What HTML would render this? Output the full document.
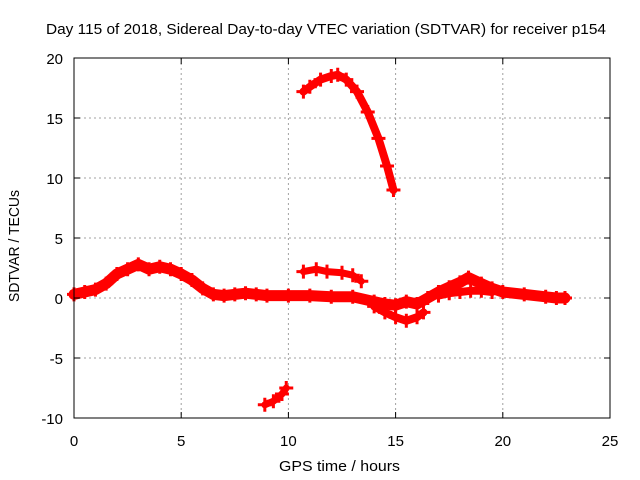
<!DOCTYPE html>
<html><head><meta charset="utf-8">
<style>
body{margin:0;background:#fff;}
svg{display:block;font-family:"Liberation Sans",sans-serif;}
</style></head>
<body>
<svg id="chart" width="640" height="480">
<rect x="0" y="0" width="640" height="480" fill="#fff"/>
<text x="46" y="34" font-size="15" textLength="560" lengthAdjust="spacingAndGlyphs">Day 115 of 2018, Sidereal Day-to-day VTEC variation (SDTVAR) for receiver p154</text>
<g id="grid"></g>
<g id="series"></g>
<rect x="74" y="58" width="536" height="360" fill="none" stroke="#000" stroke-width="1"/>
<g id="ticks"></g>
<text x="279" y="471" font-size="15" textLength="121" lengthAdjust="spacingAndGlyphs">GPS time / hours</text>
<text transform="translate(19,302) rotate(-90)" font-size="15" textLength="112" lengthAdjust="spacingAndGlyphs">SDTVAR / TECUs</text>
</svg>
<script>
const xTicks=[0,5,10,15,20,25];
const yTicks=[-10,-5,0,5,10,15,20];
const arcT=[10.7,11,11.5,12,12.3,12.7,13.2,13.7,14.2,14.6,14.9];
const arcV=[17.2,17.6,18.2,18.5,18.6,18.2,17.2,15.5,13.3,11,9];
const lowT=[8.9,9.3,9.7,9.9];
const lowV=[-8.9,-8.6,-8.0,-7.5];
const midT=[10.7,11.3,11.8,12.5,13,13.4];
const midV=[2.2,2.4,2.2,2.1,1.9,1.4];
const mainT=[0,0.5,1,1.5,2,2.5,3,3.5,4,4.5,5,5.5,6,6.5,7,7.5,8,8.5,9,10,11,12,13,14,14.5,15,15.5,16,16.5,17,17.5,18,18.4,19,19.5,20,21,22,22.5,22.9];
const mainV=[0.3,0.5,0.7,1.2,2,2.4,2.8,2.4,2.6,2.4,2,1.5,0.8,0.3,0.2,0.3,0.4,0.3,0.2,0.2,0.2,0.1,0.1,-0.3,-0.5,-0.6,-0.3,-0.5,0,0.5,0.9,1.3,1.7,1.2,0.8,0.5,0.3,0.1,0,0];
const lowerT=[14,14.5,15,15.5,16,16.3];
const lowerV=[-0.7,-1.2,-1.6,-1.9,-1.6,-1.2];
const secT=[17,17.5,18,18.5,19,19.5];
const secV=[0.2,0.4,0.5,0.6,0.6,0.5];

const NS="http://www.w3.org/2000/svg";
const X=t=>74+t*536/25;
const Y=v=>418-(v+10)*12;
const grid=document.getElementById('grid'),ticks=document.getElementById('ticks'),ser=document.getElementById('series');
function mk(tag,attrs,parent){const e=document.createElementNS(NS,tag);for(const k in attrs)e.setAttribute(k,attrs[k]);parent.appendChild(e);return e;}
xTicks.forEach(t=>{
  if(t>0&&t<25){const g=mk('line',{x1:X(t),x2:X(t),y1:58,y2:418,stroke:'#a0a0a0','stroke-dasharray':'2,3'},grid);
  
  }
  mk('line',{x1:X(t),x2:X(t),y1:418,y2:412,stroke:'#000'},ticks);
  mk('line',{x1:X(t),x2:X(t),y1:58,y2:64,stroke:'#000'},ticks);
  const l=mk('text',{x:X(t),y:446,'font-size':15,'text-anchor':'middle'},ticks);l.textContent=t;
  
  
});
yTicks.forEach(v=>{
  if(v>-10&&v<20){const g=mk('line',{x1:74,x2:610,y1:Y(v),y2:Y(v),stroke:'#a0a0a0','stroke-dasharray':'2,3'},grid);
  
  }
  mk('line',{x1:74,x2:80,y1:Y(v),y2:Y(v),stroke:'#000'},ticks);
  mk('line',{x1:610,x2:604,y1:Y(v),y2:Y(v),stroke:'#000'},ticks);
  const l=mk('text',{x:63,y:Y(v)+6,'font-size':15,'text-anchor':'end'},ticks);l.textContent=v;
  
  
});
function draw(T,V,name,w){
  const g=mk('g',{},ser);
  
  
  mk('polyline',{points:T.map((t,i)=>X(t)+','+Y(V[i])).join(' '),fill:'none',stroke:'#f00','stroke-width':w,'stroke-linejoin':'round','stroke-linecap':'round'},g);
  T.forEach((t,i)=>{const x=X(t),y=Y(V[i]);
    const p=mk('path',{d:`M${x-7},${y}h14M${x},${y-7}v14`,stroke:'#f00','stroke-width':3},g);
    
    });
}
draw(mainT,mainV,'series-main-band',11);
draw(secT,secV,'series-secondary-band',8);
draw(lowerT,lowerV,'series-lower-branch',8);
draw(midT,midV,'series-mid-segment',7);
draw(arcT,arcV,'series-upper-arc',8);
draw(lowT,lowV,'series-low-segment',7);
</script>
</body></html>
